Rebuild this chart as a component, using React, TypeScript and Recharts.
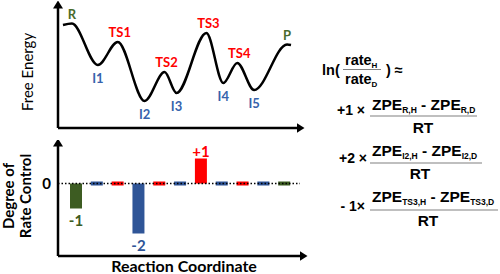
import React from "react";
import {
  LineChart,
  Line,
  BarChart,
  Bar,
  Cell,
  XAxis,
  YAxis,
  ReferenceLine,
  LabelList,
} from "recharts";

// free energy profile: reaction coordinate / energy (arbitrary units)
const pathX = [5, 14, 40, 60, 87, 107, 119, 149, 166, 180, 197, 230, 234];
const pathE = [103, 104.5, 63, 86, 27, 56, 35, 95, 45, 65, 38, 83.5, 83];
const pathNames = ["", "R", "I1", "TS1", "I2", "TS2", "I3", "TS3", "I4", "TS4", "I5", "P", ""];

// degree of rate control per state
const states = ["R", "I1", "TS1", "I2", "TS2", "I3", "TS3", "I4", "TS4", "I5", "P"];
const drc = [-1, 0, 0, -2, 0, 0, 1, 0, 0, 0, 0];

const GREEN = "#3d5c22";
const GREEN_TXT = "#4a6b2b";
const BLUE = "#2f5597";
const BLUE_TXT = "#3763ac";
const RED = "#ff0000";
const CAL = "Lato, 'Open Sans', sans-serif";
const ARIAL = "'Liberation Sans', Arial, sans-serif";
const ZERO_MARK = 0.08;

const colorOf = (s: string, txt = false) =>
  s === "R" || s === "P" ? (txt ? GREEN_TXT : GREEN) : s.startsWith("TS") ? RED : txt ? BLUE_TXT : BLUE;

const curveData = pathX.map((x, i) => ({ x, e: pathE[i], name: pathNames[i] }));
const barData = states.map((s, i) => ({
  name: s,
  v: drc[i],
  range: drc[i] === 0 ? [-ZERO_MARK, ZERO_MARK] : [0, drc[i]],
}));

const axisStyle = (marker: "start" | "end") => ({
  stroke: "#000",
  strokeWidth: 2.5,
  ...(marker === "start" ? { markerStart: "url(#arrowHead)" } : { markerEnd: "url(#arrowHead)" }),
});

const curveLabel = (p: any) => {
  const name = p.value as string;
  if (!name) return null;
  const below = name.startsWith("I");
  return (
    <text
      x={p.x + (name.startsWith("TS") ? 2 : 0)}
      y={p.y + (below ? 13.5 : -9.5)}
      dy="0.35em"
      textAnchor="middle"
      fontFamily={CAL}
      fontWeight={700}
      fontSize={13}
      fill={colorOf(name, true)}
    >
      {name}
    </text>
  );
};

const barLabel = (p: any) => {
  const v = p.value as number;
  if (!v) return null;
  const top = Math.min(p.y, p.y + p.height);
  const bottom = Math.max(p.y, p.y + p.height);
  const s = states[p.index];
  return (
    <text
      x={p.x + p.width / 2}
      y={v > 0 ? top - 7 : bottom + 12}
      dy="0.35em"
      textAnchor="middle"
      fontFamily={CAL}
      fontWeight={700}
      fontSize={15}
      fill={colorOf(s)}
    >
      {v > 0 ? "+" + v : String(v)}
    </text>
  );
};

function Frac({ x, y, lineY, x2, sub1, sub2, rtX, rtY }: any) {
  return (
    <g fontFamily={ARIAL} fontWeight={700} fill="#000">
      <text x={x + 2} y={y} fontSize={15.5}>
        ZPE<tspan fontSize={8.5} dy={3}>{sub1}</tspan>
        <tspan dy={-3}> - ZPE</tspan>
        <tspan fontSize={8.5} dy={3}>{sub2}</tspan>
      </text>
      <line x1={x} x2={x2} y1={lineY} y2={lineY} stroke="#808080" strokeWidth={1.2} />
      <text x={rtX} y={rtY} fontSize={15.5} textAnchor="middle">
        RT
      </text>
    </g>
  );
}

export default function App() {
  return (
    <div style={{ position: "absolute", left: 0, top: 0, width: 500, height: 274, background: "#fff" }}>
      <svg width={0} height={0} style={{ position: "absolute" }}>
        <defs>
          <marker
            id="arrowHead"
            viewBox="0 0 8 10"
            refX={0.5}
            refY={5}
            markerWidth={8}
            markerHeight={10}
            markerUnits="userSpaceOnUse"
            orient="auto-start-reverse"
          >
            <path d="M0,0 L8,5 L0,10 z" fill="#000" />
          </marker>
        </defs>
      </svg>

      <div style={{ position: "absolute", left: 0, top: 0 }}>
        <LineChart width={310} height={140} data={curveData} margin={{ top: 8, right: 13, bottom: 11, left: 57 }}>
          <XAxis
            dataKey="x"
            type="number"
            domain={[0, 240]}
            height={1}
            tick={false}
            tickLine={false}
            axisLine={axisStyle("end")}
          />
          <YAxis type="number" domain={[0, 120]} width={1} tick={false} tickLine={false} axisLine={axisStyle("start")} />
          <Line
            dataKey="e"
            type="monotone"
            stroke="#000"
            strokeWidth={2.5}
            dot={false}
            isAnimationActive={false}
          >
            <LabelList dataKey="name" content={curveLabel} />
          </Line>
        </LineChart>
      </div>

      <div style={{ position: "absolute", left: 0, top: 140 }}>
        <BarChart width={310} height={134} data={barData} margin={{ top: 6, right: 10, bottom: 17, left: 57 }}>
          <XAxis
            dataKey="name"
            height={1}
            tick={false}
            tickLine={false}
            padding={{ left: 8, right: 5 }}
            axisLine={axisStyle("end")}
          />
          <YAxis
            type="number"
            domain={[-2.9, 1.5]}
            ticks={[0]}
            width={1}
            tickLine={false}
            tickMargin={1}
            tick={{ fill: "#000", fontSize: 15, fontWeight: 700, fontFamily: CAL }}
            axisLine={axisStyle("start")}
          />
          <ReferenceLine y={0} stroke="#000" strokeWidth={1.5} strokeDasharray="1.5 2" />
          <Bar dataKey="range" barSize={12} isAnimationActive={false}>
            {barData.map((d) => (
              <Cell key={d.name} fill={colorOf(d.name)} />
            ))}
            <LabelList dataKey="v" content={barLabel} />
          </Bar>
        </BarChart>
      </div>

      <svg width={500} height={274} style={{ position: "absolute", left: 0, top: 0, pointerEvents: "none" }}>
        <g fontFamily={CAL} fill="#000">
          <text x={28} y={72} dy="0.35em" fontSize={15} textAnchor="middle" transform="rotate(-90 28 72)">
            Free Energy
          </text>
          <text x={9} y={196} dy="0.35em" fontSize={15} fontWeight={700} textAnchor="middle" transform="rotate(-90 9 196)">
            Degree of
          </text>
          <text x={26} y={196} dy="0.35em" fontSize={15} fontWeight={700} textAnchor="middle" transform="rotate(-90 26 196)">
            Rate Control
          </text>
          <text x={184} y={266} dy="0.35em" fontSize={16} fontWeight={700} textAnchor="middle">
            Reaction Coordinate
          </text>
        </g>

        <g fontFamily={ARIAL} fontWeight={700} fill="#000">
          <text x={322} y={75} fontSize={14.5}>ln(</text>
          <text x={345} y={65} fontSize={14.5}>
            rate<tspan fontSize={8} dy={3}>H</tspan>
          </text>
          <line x1={343} x2={381} y1={69.5} y2={69.5} stroke="#808080" strokeWidth={1.2} />
          <text x={345} y={84} fontSize={14.5}>
            rate<tspan fontSize={8} dy={3}>D</tspan>
          </text>
          <text x={386} y={75} fontSize={14.5}>) ≈</text>

          <text x={365} y={115} fontSize={14} textAnchor="end">+1 ×</text>
          <text x={367} y={163} fontSize={14} textAnchor="end">+2 ×</text>
          <text x={365} y={211} fontSize={14} textAnchor="end">- 1×</text>
        </g>
        <Frac x={370} x2={477} y={110} lineY={116} sub1="R,H" sub2="R,D" rtX={423} rtY={133} />
        <Frac x={370} x2={482} y={156} lineY={163} sub1="I2,H" sub2="I2,D" rtX={420} rtY={179} />
        <Frac x={370} x2={498} y={202} lineY={210} sub1="TS3,H" sub2="TS3,D" rtX={428} rtY={226} />
      </svg>
    </div>
  );
}
